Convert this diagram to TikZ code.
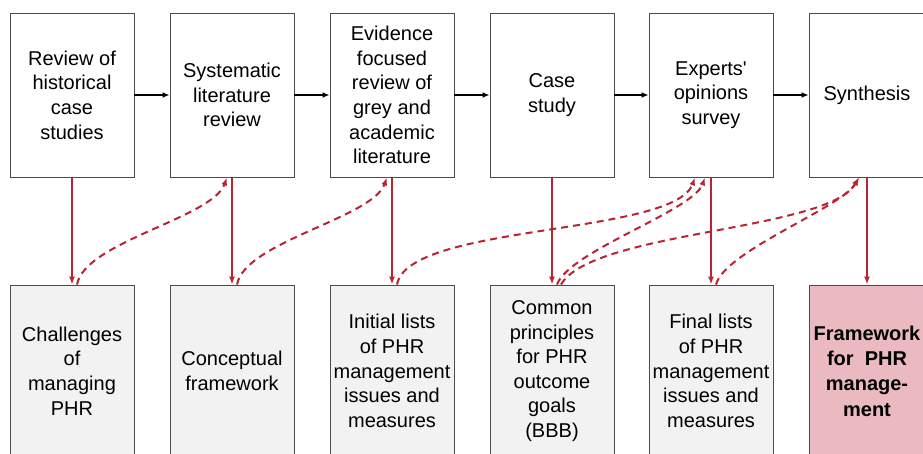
\documentclass[tikz,border=0pt]{standalone}
\usepackage{fontspec}
\setmainfont{Liberation Sans}[Ligatures=TeXOff]
\usetikzlibrary{arrows.meta}
\usepackage{xcolor}
\definecolor{phrred}{RGB}{185,35,50}
\definecolor{boxgrey}{RGB}{242,242,242}
\definecolor{boxpink}{RGB}{235,186,192}

\begin{document}
\begin{tikzpicture}[x=1pt, y=1pt,
        stage/.style={rectangle, draw=black!70, fill=white, line width=0.9pt, minimum width=124pt, minimum height=164pt, align=center, font=\fontsize{20}{24.6}\selectfont},
        result/.style={rectangle, draw=black!70, fill=boxgrey, line width=0.9pt, minimum width=124pt, minimum height=172pt, align=center, font=\fontsize{20}{24.6}\selectfont},
        final/.style={result, fill=boxpink, font=\fontsize{20}{25.4}\selectfont\bfseries},
        flow/.style={-{Latex[length=7pt, width=6pt]}, line width=1.8pt, black},
        feeds/.style={-{Latex[length=8pt, width=6pt]}, line width=1.6pt, phrred},
        informs/.style={-{Latex[length=8pt, width=6pt]}, line width=2pt, phrred, dash pattern=on 7pt off 5pt}
    ]
        \useasboundingbox (0,0) rectangle (923,453);

        % Research stages
        \node[stage] (hist) at (72,358) {Review of\\historical\\case\\studies};
        \node[stage] (slr) at (232,358) {Systematic\\literature\\review};
        \node[stage] (evid) at (392,358) {Evidence\\focused\\review of\\grey and\\academic\\literature};
        \node[stage] (case) at (552,358) {Case\\study};
        \node[stage] (expert) at (711,358) {Experts'\\opinions\\survey};
        \node[stage, minimum width=116pt] (synth) at (867,358) {Synthesis};

        % Outcomes
        \node[result] (chall) at (72,82) {Challenges\\of\\managing\\PHR};
        \node[result] (concept) at (232,82) {Conceptual\\framework};
        \node[result] (initial) at (392,82) {Initial lists\\of PHR\\management\\issues and\\measures};
        \node[result] (common) at (552,82) {Common\\principles\\for PHR\\outcome\\goals\\(BBB)};
        \node[result] (finallist) at (711,82) {Final lists\\of PHR\\management\\issues and\\measures};
        \node[final, minimum width=116pt] (frame) at (867,82) {Framework\\for~ PHR\\manage-\\ment};

        % Stage order
        \draw[flow] (hist) -- (slr);
        \draw[flow] (slr) -- (evid);
        \draw[flow] (evid) -- (case);
        \draw[flow] (case) -- (expert);
        \draw[flow] (expert) -- (synth);

        % Stage to outcome
        \draw[feeds] (hist) -- (chall);
        \draw[feeds] (slr) -- (concept);
        \draw[feeds] (evid) -- (initial);
        \draw[feeds] (case) -- (common);
        \draw[feeds] (expert) -- (finallist);
        \draw[feeds] (synth) -- (frame);

        % Outcome feeding later stages
        \draw[informs] ([xshift=5pt]chall.north) to[out=80, in=-110, looseness=0.6] ([xshift=-5pt]slr.south);
        \draw[informs] ([xshift=5pt]concept.north) to[out=80, in=-110, looseness=0.6] ([xshift=-5pt]evid.south);
        \draw[informs] ([xshift=5pt]initial.north) to[out=80, in=-110, looseness=0.5] ([xshift=-16pt]expert.south);
        \draw[informs] ([xshift=5pt]common.north) to[out=70, in=-110, looseness=0.5] ([xshift=-6pt]expert.south);
        \draw[informs] ([xshift=9pt]common.north) to[out=60, in=-120, looseness=0.5] ([xshift=-8pt]synth.south);
        \draw[informs] ([xshift=5pt]finallist.north) to[out=75, in=-120, looseness=0.5] ([xshift=-8pt]synth.south);
    \end{tikzpicture}
\end{document}
